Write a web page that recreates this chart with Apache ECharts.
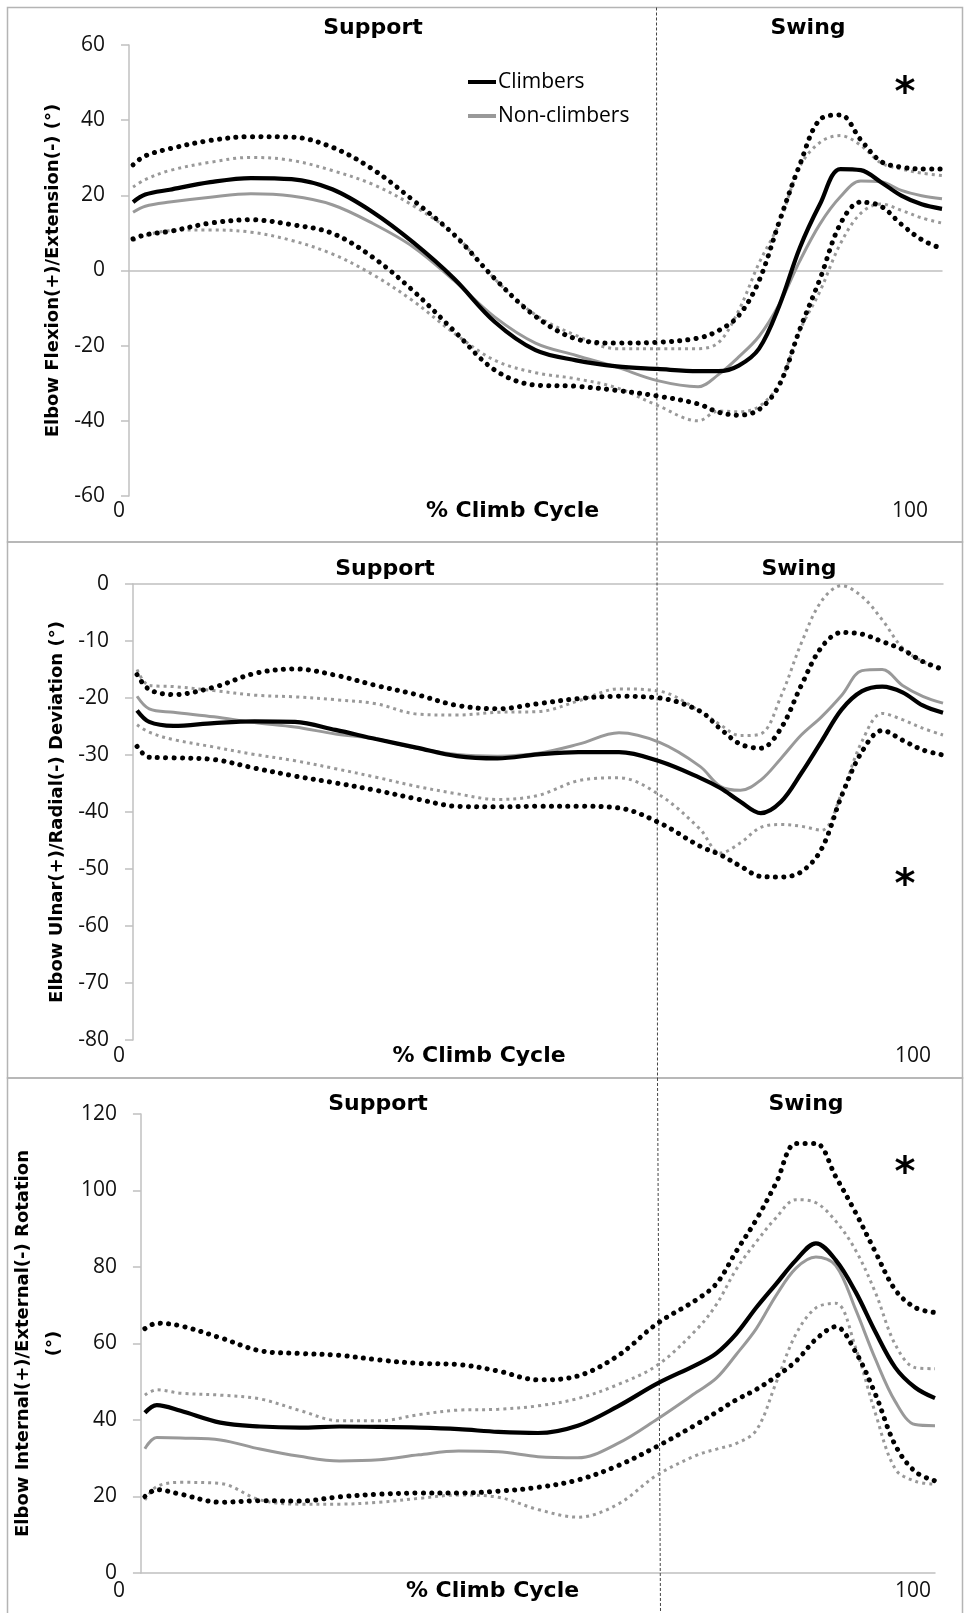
<!DOCTYPE html>
<html>
<head>
<meta charset="utf-8">
<title>Elbow angles over the climb cycle</title>
<script src="https://cdn.jsdelivr.net/npm/echarts@6/dist/echarts.min.js"></script>
<style>
  html, body { margin: 0; padding: 0; background: #fff; }
  #chart { width: 964px; height: 1613px; }
</style>
</head>
<body>
<div id="chart"></div>
<script>
// % climb cycle sample points shared by every curve
const cycle = [0.5, 2, 5, 10, 15, 20, 25, 30, 35, 40, 45, 50, 55, 60, 65, 70, 72.5, 75, 77.5, 80, 82.5, 85, 87.5, 90, 92.5, 95, 97.5, 100];

// flexion(+)/extension(-)
const flexClimb = [18.2, 20.2, 21.5, 23.5, 24.6, 24.3, 21.6, 15.5, 7.4, -2.2, -13.7, -21.2, -23.9, -25.5, -26.2, -26.8, -26.8, -25.3, -20.8, -9.3, 6.0, 17.7, 27.0, 26.7, 23.5, 19.9, 17.6, 16.4];
const flexClimbUp = [28.1, 30.5, 32.4, 34.6, 35.6, 35.5, 32.8, 26.9, 18.6, 9.5, -2.2, -12.2, -18.2, -19.3, -19.1, -18.0, -16.0, -12.0, -2.7, 13.1, 28.1, 40.2, 41.4, 34.8, 29.0, 27.5, 27.0, 27.0];
const flexClimbLow = [8.4, 9.5, 10.4, 12.6, 13.5, 12.2, 9.9, 3.5, -5.5, -16.1, -26.5, -30.5, -30.8, -31.9, -33.4, -35.5, -37.7, -38.5, -37.0, -30.4, -15.7, -2.2, 12.4, 18.2, 17.1, 12.3, 8.2, 5.8];
const flexNon = [15.5, 17.1, 18.2, 19.5, 20.4, 19.8, 17.5, 12.5, 6.2, -2.7, -12.4, -19.3, -22.6, -25.7, -29.3, -30.9, -27.7, -23.0, -17.5, -8.9, 2.5, 12.4, 19.6, 23.8, 23.6, 21.3, 19.9, 19.1];
const flexNonUp = [22.2, 24.2, 26.6, 28.8, 30.1, 29.3, 26.6, 22.9, 17.2, 9.6, -2.3, -11.8, -17.3, -20.8, -20.8, -20.8, -19.2, -10.6, 2.0, 12.6, 27.6, 34.1, 35.9, 33.3, 28.6, 27.0, 25.9, 25.3];
const flexNonLow = [8.0, 9.3, 10.6, 10.8, 10.2, 8.0, 4.4, -1.1, -8.2, -16.7, -23.9, -27.2, -28.8, -31.2, -35.9, -40.0, -37.4, -37.6, -36.2, -30.1, -16.0, -5.5, 7.1, 15.2, 17.7, 16.0, 14.0, 12.6];

// ulnar(+)/radial(-) deviation
const devClimb = [-22.2, -24.2, -24.9, -24.4, -24.1, -24.2, -25.6, -27.2, -28.7, -30.2, -30.6, -29.9, -29.5, -29.5, -31.1, -34.0, -35.8, -38.2, -40.2, -38.2, -33.2, -27.6, -22.0, -18.8, -18.0, -19.0, -21.3, -22.6];
const devClimbUp = [-15.9, -18.5, -19.4, -18.1, -15.7, -14.9, -16.0, -17.8, -19.4, -21.3, -21.9, -21.0, -20.1, -19.7, -20.0, -22.3, -25.4, -28.1, -28.8, -25.3, -17.8, -11.1, -8.5, -8.8, -10.1, -11.5, -13.6, -15.0];
const devClimbLow = [-28.5, -30.4, -30.5, -30.8, -32.3, -33.7, -34.9, -36.2, -37.7, -39.0, -39.1, -39.0, -39.0, -39.3, -41.9, -46.0, -47.5, -49.5, -51.3, -51.4, -50.5, -46.5, -37.1, -29.4, -25.7, -27.4, -29.1, -30.0];
const devNon = [-19.7, -21.9, -22.5, -23.3, -24.3, -25.1, -26.3, -27.2, -28.8, -29.9, -30.2, -29.7, -28.1, -26.1, -27.8, -32.0, -35.5, -36.2, -34.4, -30.6, -26.5, -23.3, -19.5, -15.2, -15.0, -17.8, -19.7, -20.9];
const devNonUp = [-15.0, -17.8, -18.0, -18.7, -19.5, -19.8, -20.3, -21.0, -22.8, -23.0, -22.5, -22.4, -20.5, -18.4, -18.8, -22.3, -24.7, -26.6, -26.3, -19.7, -10.4, -3.0, -0.3, -2.2, -6.3, -11.2, -13.6, -14.7];
const devNonLow = [-24.7, -26.0, -27.3, -28.6, -29.9, -31.0, -32.4, -33.9, -35.5, -36.8, -37.8, -37.1, -34.5, -34.0, -37.0, -43.0, -47.2, -45.4, -42.7, -42.2, -42.5, -43.2, -36.7, -27.6, -22.7, -23.8, -25.3, -26.5];

// internal(+)/external(-) rotation
const rotClimb = [41.9, 43.9, 42.4, 39.3, 38.3, 38.0, 38.3, 38.2, 38.0, 37.6, 36.9, 36.6, 38.5, 43.5, 49.5, 54.5, 57.5, 62.6, 69.4, 75.6, 81.8, 86.2, 81.8, 73.5, 63.0, 53.7, 48.5, 45.7];
const rotClimbUp = [63.9, 65.3, 64.6, 61.5, 58.1, 57.4, 56.9, 55.7, 54.8, 54.5, 52.8, 50.5, 51.5, 56.7, 65.2, 71.5, 75.7, 84.2, 92.4, 102.0, 112.3, 112.3, 103.6, 94.2, 83.9, 74.0, 69.4, 68.1];
const rotClimbLow = [20.0, 21.8, 20.6, 18.5, 18.9, 18.8, 19.9, 20.6, 20.9, 20.9, 21.4, 22.4, 24.3, 28.0, 33.1, 38.9, 42.1, 45.3, 48.0, 51.4, 55.4, 61.1, 64.4, 57.8, 46.7, 33.4, 26.5, 24.1];
const rotNon = [32.5, 35.4, 35.3, 34.8, 32.4, 30.5, 29.3, 29.6, 30.9, 31.9, 31.7, 30.4, 30.1, 33.8, 40.2, 47.3, 51.0, 57.2, 63.9, 72.6, 79.7, 82.6, 80.4, 68.9, 55.9, 44.8, 38.8, 38.5];
const rotNonUp = [46.5, 47.9, 47.0, 46.5, 45.5, 42.5, 39.8, 39.8, 41.4, 42.6, 42.8, 43.7, 45.6, 49.2, 54.3, 63.7, 70.3, 79.5, 86.6, 92.9, 97.6, 96.8, 92.0, 84.4, 73.3, 59.7, 53.7, 53.4];
const rotNonLow = [19.1, 22.6, 23.7, 23.4, 19.1, 18.0, 18.0, 18.5, 19.5, 20.4, 19.8, 16.6, 14.6, 17.9, 25.6, 30.8, 32.4, 33.9, 37.3, 49.8, 62.5, 69.3, 70.5, 58.9, 41.7, 27.2, 24.0, 23.2];

const yTitles = [
  "Elbow Flexion(+)/Extension(-) (°)",
  "Elbow Ulnar(+)/Radial(-) Deviation (°)",
  "Elbow Internal(+)/External(-) Rotation\n(°)",
];
const yRanges = [[-60, 60, 20], [-80, 0, 10], [0, 120, 20]];
const groupNames = ["Climbers", "Non-climbers"];
const phaseLabels = ["Support", "Swing"];
const xEndLabels = ["0", "100"];
const xTitle = "% Climb Cycle";
const sigMark = "*";

const panels = [
  { climb: [flexClimb, flexClimbUp, flexClimbLow], non: [flexNon, flexNonUp, flexNonLow] },
  { climb: [devClimb, devClimbUp, devClimbLow], non: [devNon, devNonUp, devNonLow] },
  { climb: [rotClimb, rotClimbUp, rotClimbLow], non: [rotNon, rotNonUp, rotNonLow] },
];

const grids = [
  { left: 129, right: 22, top: 45, height: 451 },
  { left: 133, right: 21, top: 584, height: 456 },
  { left: 133, right: 29, top: 1114, height: 459 },
];
const nameGaps = [62, 62, 55];

const tickFont = "'Open Sans', 'Noto Sans', sans-serif";
const boldFont = "'DejaVu Sans', Verdana, sans-serif";
const axisGray = "#c0c0c0";
const lineGray = "#999999";

const toPoints = (arr) => cycle.map((x, i) => [x, arr[i]]);

const makeSeries = (name, arr, gi, kind) => {
  const gray = kind.indexOf("non") === 0;
  const color = gray ? lineGray : "#000";
  let lineStyle;
  if (kind === "climbMean") lineStyle = { color, width: 4.2 };
  else if (kind === "nonMean") lineStyle = { color, width: 3 };
  else if (kind === "climbSD") lineStyle = { color, width: 5, type: [0.1, 8.2], cap: "round" };
  else lineStyle = { color, width: 3, type: [3, 4], cap: "butt" };
  return {
    name,
    type: "line",
    xAxisIndex: gi,
    yAxisIndex: gi,
    data: toPoints(arr),
    smooth: 0.35,
    symbol: "none",
    showSymbol: false,
    silent: true,
    itemStyle: { color },
    lineStyle,
    z: gray ? 2 : 3,
  };
};

const series = [];
panels.forEach((p, gi) => {
  series.push(makeSeries(groupNames[1] + " +SD", p.non[1], gi, "nonSD"));
  series.push(makeSeries(groupNames[1] + " -SD", p.non[2], gi, "nonSD"));
  series.push(makeSeries(groupNames[1], p.non[0], gi, "nonMean"));
  series.push(makeSeries(groupNames[0] + " +SD", p.climb[1], gi, "climbSD"));
  series.push(makeSeries(groupNames[0] + " -SD", p.climb[2], gi, "climbSD"));
  series.push(makeSeries(groupNames[0], p.climb[0], gi, "climbMean"));
});

const xAxes = grids.map((g, gi) => ({
  gridIndex: gi,
  type: "value",
  min: 0,
  max: 100,
  axisLine: { onZero: true, lineStyle: { color: axisGray, width: 1.5 } },
  axisTick: { show: false },
  axisLabel: { show: false },
  splitLine: { show: false },
}));

const yAxes = yRanges.map((r, gi) => ({
  gridIndex: gi,
  type: "value",
  min: r[0],
  max: r[1],
  interval: r[2],
  name: yTitles[gi],
  nameLocation: "middle",
  nameRotate: 90,
  nameGap: nameGaps[gi],
  nameTextStyle: {
    fontFamily: boldFont,
    fontWeight: "bold",
    fontSize: 18,
    color: "#000",
    lineHeight: gi === 2 ? 31 : 20,
  },
  axisLine: { show: true, onZero: false, lineStyle: { color: axisGray, width: 1.5 } },
  axisTick: { show: true, length: 8, lineStyle: { color: axisGray, width: 1.5 } },
  axisLabel: { margin: 24, fontFamily: tickFont, fontSize: 21, color: "#111" },
  splitLine: { show: false },
}));

// text placed around each panel
const panelText = [
  { phaseY: 28.5, phaseX: [373, 808], endY: 511.5, endX: [119, 910], titleX: 512.5, star: [905, 86] },
  { phaseY: 569.5, phaseX: [385, 799], endY: 1056, endX: [119, 913], titleX: 479, star: [905, 878] },
  { phaseY: 1104, phaseX: [378, 806], endY: 1591, endX: [119, 913], titleX: 492.5, star: [905, 1166] },
];

const graphic = [];
const panelBoxes = [[7.5, 534.5], [542, 536], [1078, 545]];
panelBoxes.forEach((b) => {
  graphic.push({
    type: "rect",
    z: 0,
    shape: { x: 7.5, y: b[0], width: 955, height: b[1] },
    style: { fill: "none", stroke: "#b4b4b4", lineWidth: 1.5 },
    silent: true,
  });
});
graphic.push({
  type: "line", z: 1, silent: true,
  shape: { x1: 656.5, y1: 7.5, x2: 657.5, y2: 1078 },
  style: { stroke: "#444", lineWidth: 1, lineDash: [3, 2] },
});
graphic.push({
  type: "line", z: 1, silent: true,
  shape: { x1: 657.5, y1: 1078, x2: 660.5, y2: 1613 },
  style: { stroke: "#444", lineWidth: 1, lineDash: [3, 2] },
});
panelText.forEach((t) => {
  phaseLabels.forEach((label, k) => {
    graphic.push({
      type: "text", z: 100, silent: true,
      x: t.phaseX[k], y: t.phaseY,
      style: { text: label, fontFamily: boldFont, fontWeight: "bold", fontSize: 22, fill: "#000", align: "center", verticalAlign: "middle" },
    });
  });
  xEndLabels.forEach((label, k) => {
    graphic.push({
      type: "text", z: 100, silent: true,
      x: t.endX[k], y: t.endY,
      style: { text: label, fontFamily: tickFont, fontSize: 21, fill: "#111", align: "center", verticalAlign: "middle" },
    });
  });
  graphic.push({
    type: "text", z: 100, silent: true,
    x: t.titleX, y: t.endY,
    style: { text: xTitle, fontFamily: boldFont, fontWeight: "bold", fontSize: 22, fill: "#000", align: "center", verticalAlign: "middle" },
  });
  graphic.push({
    type: "text", z: 100, silent: true,
    x: t.star[0], y: t.star[1] + 9,
    style: { text: sigMark, fontFamily: boldFont, fontWeight: "bold", fontSize: 40, fill: "#000", align: "center", verticalAlign: "middle" },
  });
});

const chart = echarts.init(document.getElementById("chart"), null, { renderer: "canvas" });
chart.setOption({
  animation: false,
  backgroundColor: "#fff",
  grid: grids,
  xAxis: xAxes,
  yAxis: yAxes,
  legend: {
    data: [
      { name: groupNames[0], icon: "rect" },
      { name: groupNames[1], icon: "rect" },
    ],
    orient: "vertical",
    left: 463,
    top: 65,
    itemWidth: 28,
    itemHeight: 4,
    itemGap: 10,
    selectedMode: false,
    textStyle: { fontFamily: tickFont, fontSize: 21, color: "#000", lineHeight: 24, padding: [0, 0, 0, -3] },
  },
  series,
  graphic,
});
</script>
</body>
</html>
